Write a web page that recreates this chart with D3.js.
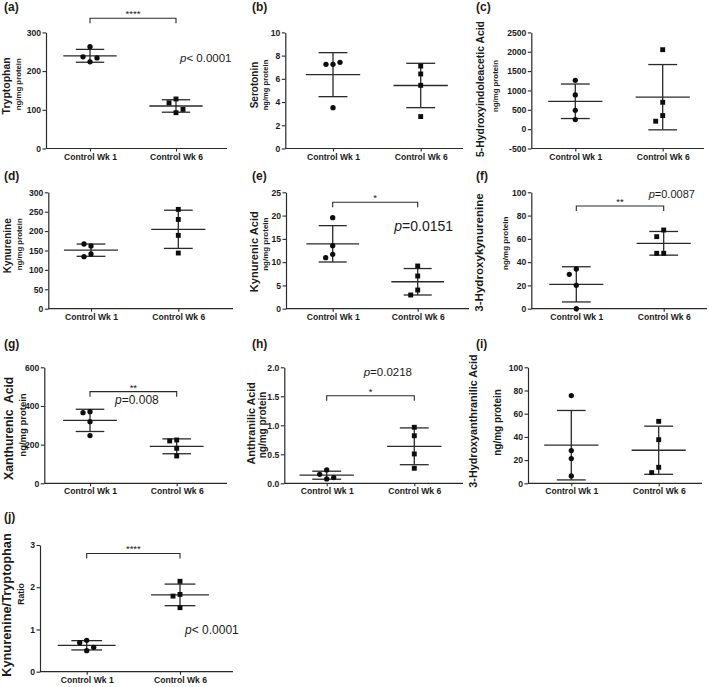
<!DOCTYPE html>
<html><head><meta charset="utf-8">
<script src="https://cdn.jsdelivr.net/npm/d3@7"></script>
<style>body{margin:0;background:#fff} svg{display:block}</style>
</head><body><svg id="chart" width="709" height="687"></svg>
<script>
// ---------- DATA ----------
const groups = ["Control Wk 1", "Control Wk 6"];

const tryptophanWk1 = [263, 224, 237, 234];
const tryptophanWk6 = [128, 92.5, 118, 101];
const serotoninWk1 = [7.25, 7.25, 7.42, 3.52];
const serotoninWk6 = [7.1, 6.42, 5.44, 2.75];
const hiaaWk1 = [1261, 885, 487, 248];
const hiaaWk6 = [2053, 694, 351, 205];
const kynurenineWk1 = [161.6, 141, 166.8, 134];
const kynurenineWk6 = [256, 230, 189, 143.5];
const kynurenicWk1 = [19.56, 13.54, 11.68, 10.96];
const kynurenicWk6 = [9.17, 7.02, 4.01, 2.94];
const hydroxykynWk1 = [20.1, 0, 34.1, 29.5];
const hydroxykynWk6 = [67.6, 61.9, 47.6, 47.6];
const xanthurenicWk1 = [319, 246.6, 370.7, 365.5];
const xanthurenicWk6 = [224, 141.4, 219, 181];
const anthranilicWk1 = [0.23, 0.075, 0.155, 0.098];
const anthranilicWk6 = [0.966, 0.82, 0.506, 0.259];
const hydroxyanthWk1 = [75.6, 28.2, 21.3, 6.3];
const hydroxyanthWk6 = [53.4, 37.6, 13.8, 9.2];
const ratioWk1 = [0.742, 0.497, 0.687, 0.576];
const ratioWk6 = [2.14, 1.516, 1.83, 1.79];

const tryptophanTicks = [0, 100, 200, 300];
const serotoninTicks = [0, 2, 4, 6, 8, 10];
const hiaaTicks = [-500, 0, 500, 1000, 1500, 2000, 2500];
const kynurenineTicks = [0, 50, 100, 150, 200, 250, 300];
const kynurenicTicks = [0, 5, 10, 15, 20, 25];
const hydroxykynTicks = [0, 20, 40, 60, 80, 100];
const xanthurenicTicks = [0, 200, 400, 600];
const anthranilicTicks = [0, 0.5, 1.0, 1.5, 2.0];
const hydroxyanthTicks = [0, 20, 40, 60, 80, 100];
const ratioTicks = [0, 1, 2, 3];

const panelLetters = ["(a)", "(b)", "(c)", "(d)", "(e)", "(f)", "(g)", "(h)", "(i)", "(j)"];
const titles = ["Tryptophan", "Serotonin", "5-Hydroxyindoleacetic Acid", "Kynurenine", "Kynurenic Acid",
  "3-Hydroxykynurenine", "Xanthurenic  Acid", "Anthranilic Acid", "3-Hydroxyanthranilic Acid", "Kynurenine/Tryptophan"];
const subtitles = ["ng/mg protein", "ng/mg protein", "ng/mg protein", "ng/mg protein", "ng/mg protein",
  "ng/mg protein", "ng/mg protein", "ng/mg protein", "ng/mg protein", "Ratio"];
// significance stars and p-values (null = none)
const sigStars = ["****", null, null, null, "*", "**", "**", "*", null, "****"];
const sigBracketY = [336.7, null, null, null, 22.85, 88.2, 474, 1.51, null, 2.80];
const pTexts = ["< 0.0001", null, null, null, "=0.0151", "=0.0087", "=0.008", "=0.0218", null, "< 0.0001"];
const pTextY = [224.7, null, null, null, 16.7, 95.1, 408.6, 1.85, null, 0.886];

const panels = [
  {wk1: tryptophanWk1, wk6: tryptophanWk6, ticks: tryptophanTicks},
  {wk1: serotoninWk1, wk6: serotoninWk6, ticks: serotoninTicks},
  {wk1: hiaaWk1, wk6: hiaaWk6, ticks: hiaaTicks},
  {wk1: kynurenineWk1, wk6: kynurenineWk6, ticks: kynurenineTicks},
  {wk1: kynurenicWk1, wk6: kynurenicWk6, ticks: kynurenicTicks},
  {wk1: hydroxykynWk1, wk6: hydroxykynWk6, ticks: hydroxykynTicks},
  {wk1: xanthurenicWk1, wk6: xanthurenicWk6, ticks: xanthurenicTicks},
  {wk1: anthranilicWk1, wk6: anthranilicWk6, ticks: anthranilicTicks, dec: 1},
  {wk1: hydroxyanthWk1, wk6: hydroxyanthWk6, ticks: hydroxyanthTicks},
  {wk1: ratioWk1, wk6: ratioWk6, ticks: ratioTicks}
];

// ---------- LAYOUT ----------
const layouts = [
  {ax:46, c1:90, c2:176, end:227, top:32.4, bot:148.5, lx:4, ly:10.5, tx:9.6, ty:85.8, tfs:10.5, sx:20.5, sy:84.2, sfs:7.8, pdx:4, pfs:11.5},
  {ax:285.3, c1:333, c2:420.7, end:463, top:32.4, bot:148.5, lx:252, ly:10.5, tx:257.5, ty:85, tfs:10, sx:267.6, sy:85, sfs:7.6},
  {ax:531.3, c1:575.3, c2:662.7, end:704, top:32.4, bot:148.5, lx:476, ly:10.5, tx:484, ty:89, tfs:10.4, sx:497.6, sy:86, sfs:7.8},
  {ax:48.3, c1:91, c2:178.3, end:233, top:192.3, bot:308.7, lx:4, ly:180.3, tx:10.5, ty:245.8, tfs:10, sx:21.6, sy:244.2, sfs:7.8},
  {ax:286, c1:332.7, c2:417.7, end:469, top:192.3, bot:308.7, lx:252, ly:180.3, tx:257.5, ty:251.7, tfs:11.1, sx:267.6, sy:244.2, sfs:8, pdx:-23.4, pfs:14},
  {ax:531.3, c1:576.3, c2:663.7, end:707, top:192.3, bot:308.7, lx:476, ly:180.3, tx:483, ty:252.5, tfs:11.6, sx:507.6, sy:243.3, sfs:8, pdx:-15, pfs:11},
  {ax:44.3, c1:90, c2:176.7, end:227, top:367.3, bot:483.3, lx:4, ly:347.6, tx:13.3, ty:428.3, tfs:12.2, sx:25.6, sy:425, sfs:9.5, pdx:-61.7, pfs:12},
  {ax:284.3, c1:326.7, c2:414.3, end:463, top:367.3, bot:483.3, lx:252, ly:347.6, tx:255.3, ty:423.3, tfs:10.8, sx:266, sy:425, sfs:10, pdx:-50.6, pfs:11.5},
  {ax:528, c1:571.3, c2:658.7, end:702, top:367.3, bot:483.3, lx:476, ly:347.6, tx:476.5, ty:421, tfs:10.8, sx:501, sy:422.5, sfs:10},
  {ax:40, c1:86.7, c2:180, end:233, top:545, bot:671.7, lx:4, ly:520.6, tx:11, ty:605, tfs:12.8, sx:24, sy:594, sfs:8.7, pdx:5, pfs:12}
];

// ---------- DRAW ----------
const FONT = "'Liberation Sans', Arial, Helvetica, sans-serif";
const INK = "#1b1b1b";
const LINE = "#2a2a2a";
const svg = d3.select("#chart").style("font-family", FONT);

function swarm(vals, y, s, T) {
  const placed = [];
  return vals.map(v => {
    const py = y(v);
    for (const k of [0, -1, 1, -2, 2]) {
      if (!placed.some(q => q.k === k && Math.abs(q.py - py) < T)) {
        placed.push({k, py});
        return {v, dx: k * s};
      }
    }
    return {v, dx: 0};
  });
}

panels.forEach((p, i) => {
  const L = layouts[i];
  const g = svg.append("g");
  const y = d3.scaleLinear().domain([p.ticks[0], p.ticks[p.ticks.length - 1]]).range([L.bot, L.top]);
  const x = d3.scalePoint().domain(groups).range([L.c1, L.c2]);
  const step = L.c2 - L.c1;
  const fmt = p.dec ? (d => d.toFixed(p.dec)) : (d => String(d));

  // y axis
  const yAx = g.append("g").attr("transform", `translate(${L.ax},0)`)
    .call(d3.axisLeft(y).tickValues(p.ticks).tickSize(3.5).tickPadding(1.5).tickSizeOuter(0).tickFormat(fmt));
  yAx.select(".domain").attr("stroke", LINE).attr("stroke-width", 1.2);
  yAx.selectAll(".tick line").attr("stroke", LINE).attr("stroke-width", 1.1);
  yAx.selectAll(".tick text").attr("fill", INK).style("font-size", "8.6px").style("font-weight", "bold").style("font-family", FONT);

  // x axis
  const xAx = g.append("g").attr("transform", `translate(0,${L.bot})`)
    .call(d3.axisBottom(x).tickSize(3).tickPadding(2).tickSizeOuter(0));
  xAx.select(".domain").remove();
  xAx.selectAll(".tick line").attr("stroke", LINE).attr("stroke-width", 1.1);
  xAx.selectAll(".tick text").attr("fill", INK).style("font-size", "8.6px").style("font-weight", "bold").style("font-family", FONT);
  g.append("line").attr("x1", L.ax).attr("x2", L.end).attr("y1", L.bot).attr("y2", L.bot)
    .attr("stroke", LINE).attr("stroke-width", 1.2);

  // groups
  [p.wk1, p.wk6].forEach((vals, gi) => {
    const cx = x(groups[gi]);
    const m = d3.mean(vals), sd = d3.deviation(vals);
    const eg = g.append("g").attr("stroke", LINE).attr("stroke-width", 1.3);
    eg.append("line").attr("x1", cx).attr("x2", cx).attr("y1", y(m - sd)).attr("y2", y(m + sd));
    [m - sd, m + sd].forEach(v => eg.append("line")
      .attr("x1", cx - 0.165 * step).attr("x2", cx + 0.165 * step).attr("y1", y(v)).attr("y2", y(v)));
    eg.append("line").attr("x1", cx - 0.31 * step).attr("x2", cx + 0.31 * step).attr("y1", y(m)).attr("y2", y(m));

    const pts = swarm(vals, y, 7, 7.5);
    const sym = d3.symbol().type(gi === 0 ? d3.symbolCircle : d3.symbolSquare).size(gi === 0 ? 22 : 24);
    g.append("g").selectAll("path").data(pts).join("path")
      .attr("d", sym)
      .attr("transform", d => `translate(${cx + d.dx},${y(d.v)})`)
      .attr("fill", "#0d0d0d");
  });

  // panel letter
  svg.append("text").attr("x", L.lx).attr("y", L.ly).text(panelLetters[i])
    .attr("fill", INK).style("font-size", "12px").style("font-weight", "bold");

  // titles
  svg.append("text").attr("transform", `translate(${L.tx},${L.ty}) rotate(-90)`).attr("text-anchor", "middle")
    .attr("fill", INK).style("font-size", L.tfs + "px").style("font-weight", "bold").style("white-space", "pre")
    .attr("xml:space", "preserve").text(titles[i]);
  svg.append("text").attr("transform", `translate(${L.sx},${L.sy}) rotate(-90)`).attr("text-anchor", "middle")
    .attr("fill", INK).style("font-size", L.sfs + "px").style("font-weight", "bold").text(subtitles[i]);

  // significance bracket
  if (sigStars[i]) {
    const by = y(sigBracketY[i]);
    const x1 = x(groups[0]), x2 = x(groups[1]);
    g.append("path").attr("d", `M${x1},${by + 5}V${by}H${x2}V${by + 5}`)
      .attr("fill", "none").attr("stroke", LINE).attr("stroke-width", 1.1);
    g.append("text").attr("x", (x1 + x2) / 2).attr("y", by - 1).attr("text-anchor", "middle")
      .attr("fill", INK).style("font-size", "9.5px").text(sigStars[i]);
  }
  if (pTexts[i]) {
    const t = g.append("text").attr("x", x(groups[1]) + L.pdx).attr("y", y(pTextY[i]))
      .attr("fill", INK).style("font-size", L.pfs + "px");
    t.append("tspan").style("font-style", "italic").text("p");
    t.append("tspan").text(pTexts[i]);
  }
});
</script>
</body></html>
